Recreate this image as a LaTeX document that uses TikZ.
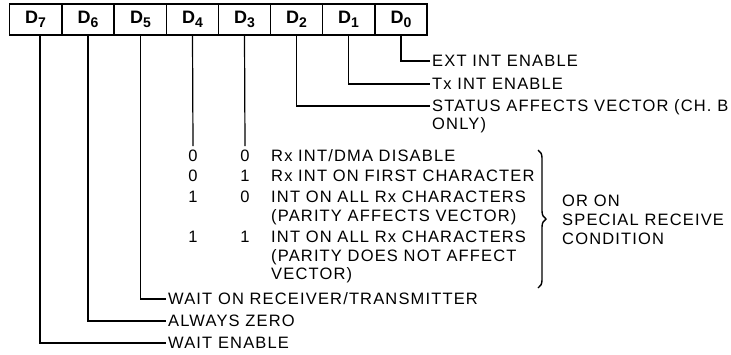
\documentclass[tikz,border=0pt]{standalone}
\usepackage{fontspec}
\setmainfont{Liberation Sans}[LetterSpace=7]
\usetikzlibrary{decorations.pathreplacing}
\newcommand{\bitlbl}[1]{D\raisebox{-3.5pt}{\fontsize{14}{14}\selectfont #1}}
\begin{document}
\begin{tikzpicture}[x=1pt,y=-1pt,
  bitbox/.style={draw,line width=1.2pt,minimum width=52pt,minimum height=31pt,inner sep=0pt,font=\fontsize{18}{18}\selectfont\bfseries},
  lbl/.style={anchor=west,inner sep=0pt,text height=11.8pt,text depth=0pt,font=\fontsize{16.5}{16.5}\selectfont},
  val/.style={inner sep=0pt,text height=11.8pt,text depth=0pt,font=\fontsize{16.5}{16.5}\selectfont},
  conn/.style={line width=1.2pt}]
\useasboundingbox (0,0) rectangle (731,354);
% register boxes
\node[bitbox] (b7) at (35.5,19.5) {\bitlbl{7}};
\node[bitbox] (b6) at (88,19.5) {\bitlbl{6}};
\node[bitbox] (b5) at (140.5,19.5) {\bitlbl{5}};
\node[bitbox] (b4) at (192.5,19.5) {\bitlbl{4}};
\node[bitbox] (b3) at (244.5,19.5) {\bitlbl{3}};
\node[bitbox] (b2) at (296.5,19.5) {\bitlbl{2}};
\node[bitbox] (b1) at (348.5,19.5) {\bitlbl{1}};
\node[bitbox] (b0) at (401,19.5) {\bitlbl{0}};
% upper labels
\node[lbl] (t0) at (432,61) {EXT INT ENABLE};
\node[lbl] (t1) at (432,84) {Tx INT ENABLE};
\node[lbl] (t2) at (432,106) {STATUS AFFECTS VECTOR (CH. B};
\node[lbl] (t2b) at (432,124) {ONLY)};
% table for D4 D3
\coordinate (e4) at (193,146);
\coordinate (e3) at (245,146);
\node[val] (v41) at (193,156) {0};
\node[val] (v31) at (245,156) {0};
\node[lbl] (r1) at (271,156) {Rx INT/DMA DISABLE};
\node[val] (v42) at (193,176) {0};
\node[val] (v32) at (245,176) {1};
\node[lbl] (r2) at (271,176) {Rx INT ON FIRST CHARACTER};
\node[val] (v43) at (193,197) {1};
\node[val] (v33) at (245,197) {0};
\node[lbl] (r3) at (271,197) {INT ON ALL Rx CHARACTERS};
\node[lbl] (r3b) at (271,216) {(PARITY AFFECTS VECTOR)};
\node[val] (v44) at (193,237) {1};
\node[val] (v34) at (245,237) {1};
\node[lbl] (r4) at (271,237) {INT ON ALL Rx CHARACTERS};
\node[lbl] (r4b) at (271,256) {(PARITY DOES NOT AFFECT};
\node[lbl] (r4c) at (271,274) {VECTOR)};
% brace
\coordinate (bt) at (538,150);
\coordinate (bb) at (538,288);
\draw[line width=1.4pt,decoration={brace,amplitude=8pt},decorate] (bt) -- (bb);
\node[lbl] (o1) at (562,201) {OR ON};
\node[lbl] (o2) at (562,220) {SPECIAL RECEIVE};
\node[lbl] (o3) at (562,239) {CONDITION};
% lower labels
\node[lbl] (t5) at (168,299) {WAIT ON RECEIVER/TRANSMITTER};
\node[lbl] (t6) at (168,321) {ALWAYS ZERO};
\node[lbl] (t7) at (168,343) {WAIT ENABLE};
% connectors
\draw[conn] (b0.south) |- ([xshift=-2pt]t0.west);
\draw[conn] (b1.south) |- ([xshift=-2pt]t1.west);
\draw[conn] (b2.south) |- ([xshift=-2pt]t2.west);
\draw[conn] (b4.south) -- (e4);
\draw[conn] (b3.south) -- (e3);
\draw[conn] (b5.south) |- ([xshift=-2pt]t5.west);
\draw[conn] (b6.south) |- ([xshift=-2pt]t6.west);
\draw[conn] ([xshift=4.5pt]b7.south) |- ([xshift=-2pt]t7.west);
\end{tikzpicture}
\end{document}
